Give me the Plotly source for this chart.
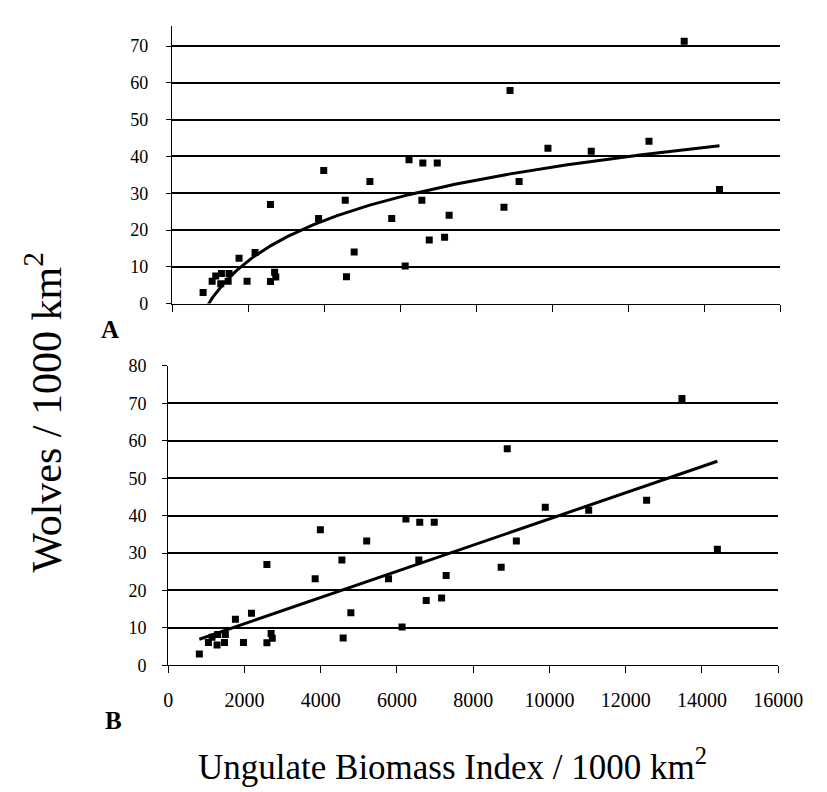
import numpy as np
import plotly.graph_objects as go

# ---- data ----
biomass = [818, 1056, 1150, 1283, 1300, 1477, 1500, 1764, 1975, 2185,
           2590, 2590, 2700, 2730, 3856, 3992, 4557, 4590, 4792, 5207,
           5780, 6135, 6236, 6574, 6599, 6768, 6979, 7172, 7291, 8734,
           8894, 9132, 9891, 11030, 12549, 13476, 14405]
wolves = [3.0, 6.1, 7.5, 5.4, 8.2, 6.1, 8.2, 12.3, 6.1, 13.9,
          26.9, 6.0, 8.5, 7.2, 23.1, 36.2, 28.1, 7.3, 14.0, 33.2,
          23.1, 10.2, 39.1, 28.1, 38.2, 17.3, 38.2, 18.0, 24.0, 26.2,
          57.9, 33.2, 42.2, 41.4, 44.1, 71.3, 31.0]

x_ticks = [0, 2000, 4000, 6000, 8000, 10000, 12000, 14000, 16000]
x_tick_labels = ["0", "2000", "4000", "6000", "8000", "10000", "12000", "14000", "16000"]
y_ticks_a = [0, 10, 20, 30, 40, 50, 60, 70]
y_ticks_b = [0, 10, 20, 30, 40, 50, 60, 70, 80]

# ---- trendlines: regression through the data ----
bx = np.array(biomass, dtype=float)
wy = np.array(wolves, dtype=float)
xs = np.linspace(bx.min(), bx.max(), 300)
a_log, b_log = np.polyfit(np.log(bx), wy, 1)
ys_log = a_log * np.log(xs) + b_log
a_lin, b_lin = np.polyfit(bx, wy, 1)
xl = np.array([bx.min(), bx.max()])
yl = a_lin * xl + b_lin

W, H = 827, 792
FONT = "Liberation Serif, Times New Roman, serif"


def fx(px):
    return px / W


def fy(py):
    return 1 - py / H


fig = go.Figure()

marker = dict(symbol="square", size=7, color="black")
fig.add_trace(go.Scatter(x=biomass, y=wolves, mode="markers", marker=marker,
                         xaxis="x", yaxis="y", showlegend=False))
fig.add_trace(go.Scatter(x=xs, y=ys_log, mode="lines",
                         line=dict(color="black", width=3),
                         xaxis="x", yaxis="y", showlegend=False))
fig.add_trace(go.Scatter(x=biomass, y=wolves, mode="markers", marker=marker,
                         xaxis="x2", yaxis="y2", showlegend=False))
fig.add_trace(go.Scatter(x=xl, y=yl, mode="lines",
                         line=dict(color="black", width=3),
                         xaxis="x2", yaxis="y2", showlegend=False))

axis_common = dict(showline=True, linecolor="black", linewidth=1.3,
                   ticks="outside", tickcolor="black", tickwidth=1.3,
                   zeroline=False)

fig.update_layout(
    width=W, height=H,
    margin=dict(l=0, r=0, t=0, b=0),
    paper_bgcolor="white", plot_bgcolor="white",
    font=dict(family=FONT, color="black"),
    xaxis=dict(domain=[fx(165), fx(796)], range=[0, 16000], tickvals=x_ticks,
               ticktext=x_tick_labels,
               showticklabels=False, showgrid=False, anchor="y", ticklen=7,
               **axis_common),
    yaxis=dict(domain=[fy(293), fy(8)], range=[0, 75.5], tickvals=y_ticks_a,
               showgrid=True, gridcolor="black", gridwidth=1.5, anchor="x",
               tickfont=dict(family=FONT, size=18, color="black"),
               ticklen=5, ticklabelstandoff=14, **axis_common),
    xaxis2=dict(domain=[fx(161), fx(794)], range=[0, 16000], tickvals=x_ticks,
                ticktext=x_tick_labels,
                tickfont=dict(family=FONT, size=20, color="black"),
                showticklabels=True, showgrid=False, anchor="y2", ticklen=7,
                ticklabelstandoff=10, **axis_common),
    yaxis2=dict(domain=[fy(664), fy(357)], range=[0, 80], tickvals=y_ticks_b,
                showgrid=True, gridcolor="black", gridwidth=1.5, anchor="x2",
                tickfont=dict(family=FONT, size=18, color="black"),
                ticklen=5, ticklabelstandoff=12, **axis_common),
    showlegend=False,
)

annotations = [
    dict(text="<b>A</b>", x=fx(101), y=fy(320), xref="paper", yref="paper",
         xanchor="center", yanchor="middle", showarrow=False,
         font=dict(family=FONT, size=25, color="black")),
    dict(text="<b>B</b>", x=fx(104), y=fy(721), xref="paper", yref="paper",
         xanchor="center", yanchor="middle", showarrow=False,
         font=dict(family=FONT, size=25, color="black")),
    dict(text="Wolves / 1000 km<sup>2</sup>", x=fx(32), y=fy(405),
         xref="paper", yref="paper", textangle=-90, showarrow=False,
         xanchor="center", yanchor="middle",
         font=dict(family=FONT, size=42, color="black")),
    dict(text="Ungulate Biomass Index / 1000 km<sup>2</sup>", x=fx(456), y=fy(766),
         xref="paper", yref="paper", showarrow=False,
         xanchor="center", yanchor="middle",
         font=dict(family=FONT, size=35, color="black")),
]
fig.update_layout(annotations=annotations)

fig.write_html("out.html")
